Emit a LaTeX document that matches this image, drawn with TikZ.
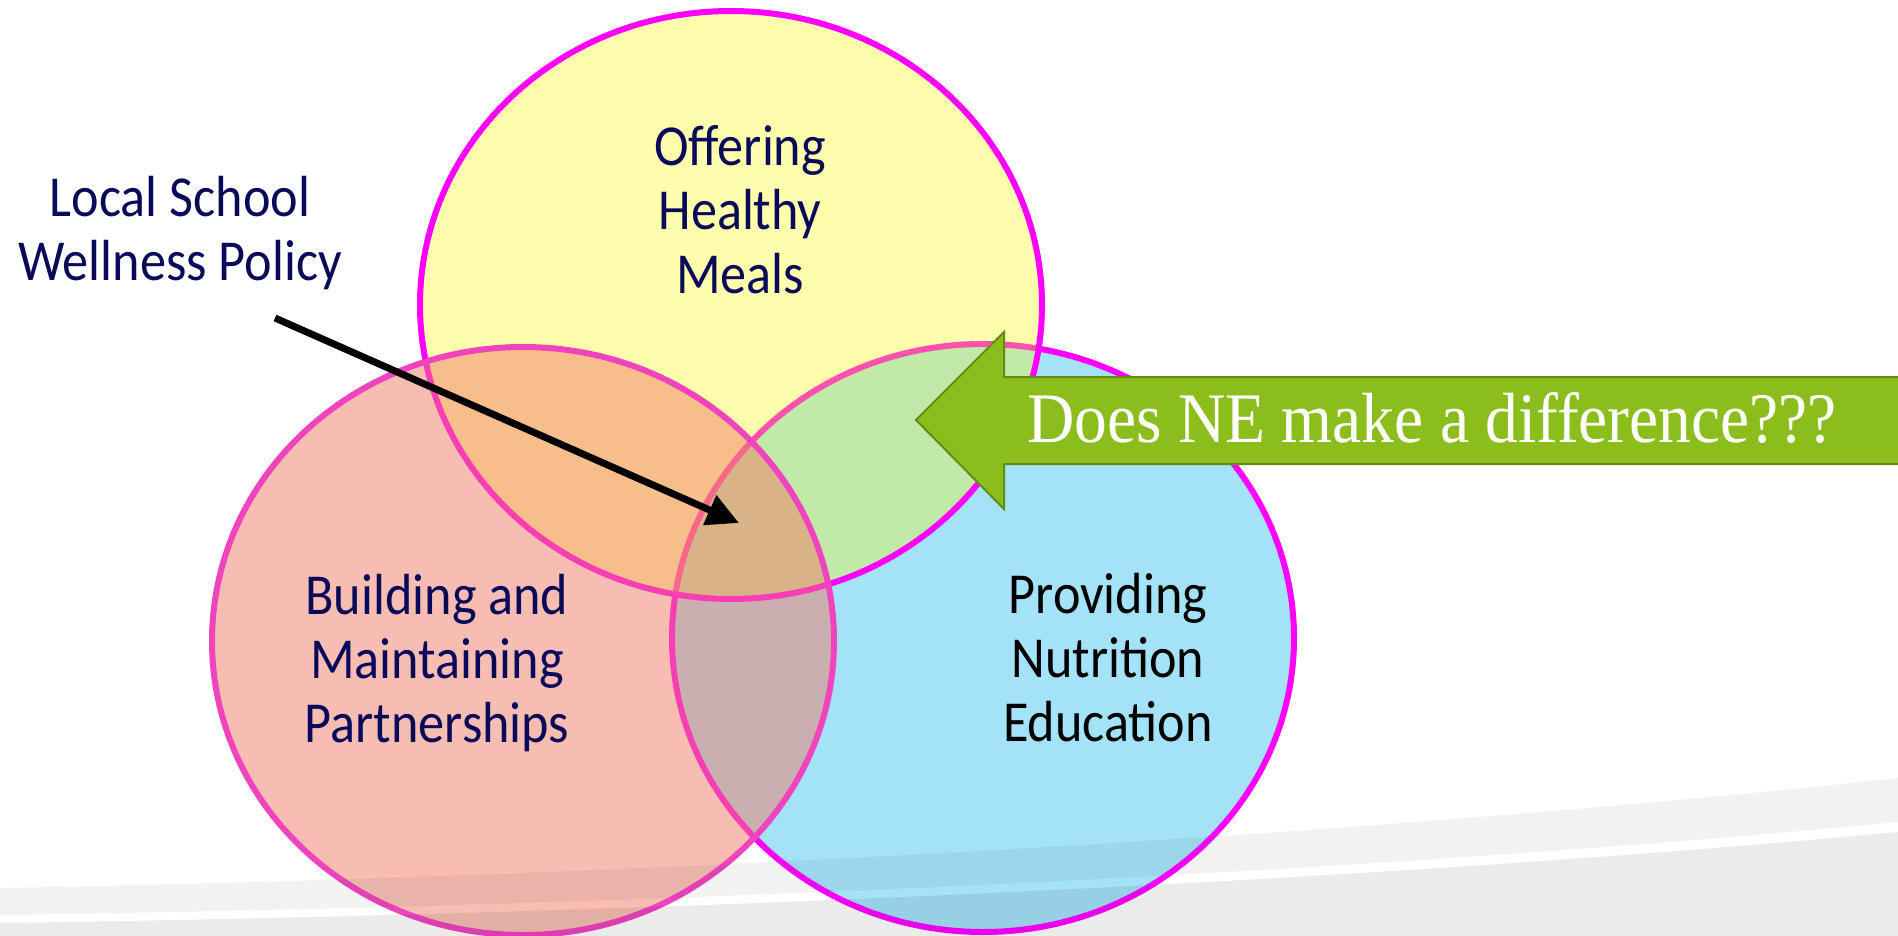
\documentclass[tikz,border=0pt]{standalone}
\usepackage{fontspec}
\usepackage{graphicx}
\setmainfont{Liberation Serif}
\newfontfamily\labelfont{Carlito}
\usetikzlibrary{arrows.meta}

\definecolor{navy}{RGB}{10,10,90}
\definecolor{vennmagenta}{RGB}{255,0,255}
\definecolor{vennpink}{RGB}{240,68,190}
\definecolor{bluefill}{RGB}{164,226,248}
\definecolor{yellowfill}{RGB}{255,252,0}
\definecolor{redfill}{RGB}{241,125,105}
\definecolor{arrowgreen}{RGB}{139,190,28}
\definecolor{arrowedge}{RGB}{100,140,20}

\newcommand\vennlines[1]{\begin{tabular}[t]{@{}c@{}}#1\end{tabular}}

\begin{document}
\begin{tikzpicture}[x=1pt,y=-1pt,
  venn/.style={line width=6pt},
  lbl/.style={inner sep=0pt, anchor=base, text=navy,
              font=\labelfont\fontsize{58}{64}\selectfont},
  pointer/.style={line width=7pt, -{Triangle[length=32pt,width=31pt]}},
  callout/.style={fill=arrowgreen, draw=arrowedge, line width=2pt, line join=miter},
]
\useasboundingbox (0,0) rectangle (1898,936);
\fill[white] (0,0) rectangle (1898,936);

% three overlapping ellipses, bottom to top
\draw[venn, draw=vennmagenta, fill=bluefill]
  (983,638) ellipse [x radius=311, y radius=294];
\draw[venn, draw=vennmagenta, fill=yellowfill, fill opacity=0.32]
  (731,305) ellipse [x radius=311, y radius=294];
\draw[venn, draw=vennpink, fill=redfill, fill opacity=0.5]
  (523,641) ellipse [x radius=311, y radius=294];

% footer swoosh
\fill[black, opacity=0.05]
  (0,888) .. controls (700,875) and (1400,832) .. (1898,778)
  -- (1898,822) .. controls (1400,870) and (700,905) .. (0,915) -- cycle;
\fill[black, opacity=0.08]
  (0,923) .. controls (700,913) and (1400,879) .. (1898,832)
  -- (1898,936) -- (0,936) -- cycle;

% labels
\node[lbl] (meals) at (740,166)
  {\scalebox{0.9}[1]{\vennlines{Offering\\Healthy\\Meals}}};
\node[lbl] (policy) at (180,217)
  {\scalebox{0.9}[1]{\vennlines{Local School\\Wellness Policy}}};
\node[lbl] (partners) at (437,614)
  {\scalebox{0.9}[1]{\vennlines{Building and\\Maintaining\\Partnerships}}};
\node[lbl, text=black] (education) at (1108,613)
  {\scalebox{0.9}[1]{\vennlines{Providing\\Nutrition\\Education}}};

% pointer from the policy label into the centre
\coordinate (pstart) at (275,318);
\coordinate (centre) at (739,523);
\draw[pointer] (pstart) -- (centre);

% green callout arrow
\draw[callout] (916,420) -- (1004,332) -- (1004,377) -- (1906,377)
  -- (1906,464) -- (1004,464) -- (1004,509) -- cycle;
\node[inner sep=0pt, anchor=base, text=white, font=\fontsize{74}{84}\selectfont]
  (question) at (1432,442) {\scalebox{0.885}[0.96]{Does NE make a difference???}};
\end{tikzpicture}
\end{document}
